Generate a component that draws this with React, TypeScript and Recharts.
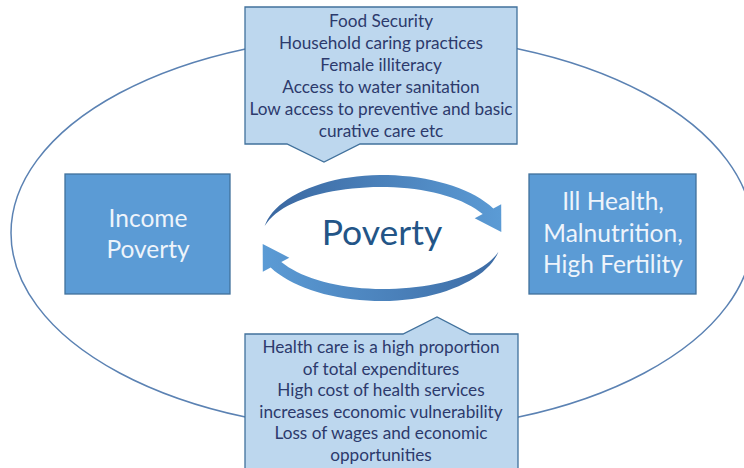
import React from "react";
import { ComposedChart, XAxis, YAxis, Customized } from "recharts";

const topFactors = [
  "Food Security",
  "Household caring practices",
  "Female illiteracy",
  "Access to water sanitation",
  "Low access to preventive and basic",
  "curative care etc",
];

const bottomFactors = [
  "Health care is a high proportion",
  "of total expenditures",
  "High cost of health services",
  "increases economic vulnerability",
  "Loss of wages and economic",
  "opportunities",
];

const leftLabel = ["Income", "Poverty"];
const rightLabel = ["Ill Health,", "Malnutrition,", "High Fertility"];
const centerLabel = "Poverty";

const W = 744;
const H = 468;
const FONT = "Lato, 'Open Sans', sans-serif";
const BORDER = "#41719c";

// crescent-shaped circular arrow around an ellipse centre line
function arcArrow(
  cx: number,
  cy: number,
  rx: number,
  ry: number,
  t0: number,
  tb: number,
  tt: number,
  wmax: number,
  flare: number
) {
  const rad = (d: number) => (d * Math.PI) / 180;
  const pt = (t: number, off: number) => {
    const a = rad(t);
    return `${(cx + (rx + off) * Math.cos(a)).toFixed(1)},${(cy + (ry + off) * Math.sin(a)).toFixed(1)}`;
  };
  const n = 40;
  const outer: string[] = [];
  const inner: string[] = [];
  for (let i = 0; i <= n; i++) {
    const s = i / n;
    const t = t0 + (tb - t0) * s;
    const w = wmax * Math.sin(Math.min(1, s * 1.8) * (Math.PI / 2));
    outer.push(pt(t, w / 2));
    inner.push(pt(t, -w / 2));
  }
  return (
    "M" +
    outer.join(" L") +
    ` L${pt(tb, wmax / 2 + flare)} L${pt(tt, 0)} L${pt(tb, -wmax / 2 - flare)} L` +
    inner.reverse().join(" L") +
    " Z"
  );
}

function Diagram() {
  const topPath = "M245,7 H517 V144 H360 L324,162 L287,144 H245 Z";
  const bottomPath = "M245,334 H403 L437,317 L470,334 H518 V480 H245 Z";
  return (
    <g>
      <defs>
        <linearGradient id="gTop" x1="0" y1="0" x2="1" y2="0">
          <stop offset="0%" stopColor="#3a67a0" />
          <stop offset="100%" stopColor="#5b9bd5" />
        </linearGradient>
        <linearGradient id="gBottom" x1="1" y1="0" x2="0" y2="0">
          <stop offset="0%" stopColor="#3d6ca5" />
          <stop offset="100%" stopColor="#5b9bd5" />
        </linearGradient>
      </defs>
      <ellipse cx={382} cy={233} rx={371} ry={198} fill="none" stroke="#5b82b3" strokeWidth={1.5} />

      <path d={topPath} fill="#bdd7ee" stroke={BORDER} strokeWidth={1.3} />
      {topFactors.map((line, i) => (
        <text key={line} x={381} y={27 + i * 22} textAnchor="middle" fontFamily={FONT} fontSize={17.2} fill="#2c3a6c">
          {line}
        </text>
      ))}

      <path d={bottomPath} fill="#bdd7ee" stroke={BORDER} strokeWidth={1.3} />
      {bottomFactors.map((line, i) => (
        <text key={line} x={381} y={353 + i * 21.6} textAnchor="middle" fontFamily={FONT} fontSize={17.2} fill="#2c3a6c">
          {line}
        </text>
      ))}

      <rect x={65} y={174} width={165} height={120} fill="#5b9bd5" stroke={BORDER} strokeWidth={1.3} />
      {leftLabel.map((line, i) => (
        <text key={line} x={148} y={227 + i * 31} textAnchor="middle" fontFamily={FONT} fontSize={24.5} fill="#eef4fb">
          {line}
        </text>
      ))}

      <rect x={529} y={174} width={167} height={120} fill="#5b9bd5" stroke={BORDER} strokeWidth={1.3} />
      {rightLabel.map((line, i) => (
        <text key={line} x={613} y={210 + i * 31.5} textAnchor="middle" fontFamily={FONT} fontSize={24.5} fill="#eef4fb">
          {line}
        </text>
      ))}

      <path d={arcArrow(382, 238, 120, 57, -168, -28, -6, 12, 9)} fill="url(#gTop)" />
      <path d={arcArrow(382, 238, 120, 57, 14, 152, 174, 12, 9)} fill="url(#gBottom)" />

      <text x={382} y={245} textAnchor="middle" fontFamily={FONT} fontSize={35.5} fill="#235587">
        {centerLabel}
      </text>
    </g>
  );
}

export default function App() {
  return (
    <div style={{ width: W, height: H, background: "#fff" }}>
      <style>{"body{margin:0}"}</style>
      <ComposedChart width={W} height={H} data={[]} margin={{ top: 0, right: 0, bottom: 0, left: 0 }}>
        <XAxis type="number" dataKey="x" domain={[0, W]} hide />
        <YAxis type="number" dataKey="y" domain={[0, H]} reversed hide />
        <Customized component={<Diagram />} />
      </ComposedChart>
    </div>
  );
}
